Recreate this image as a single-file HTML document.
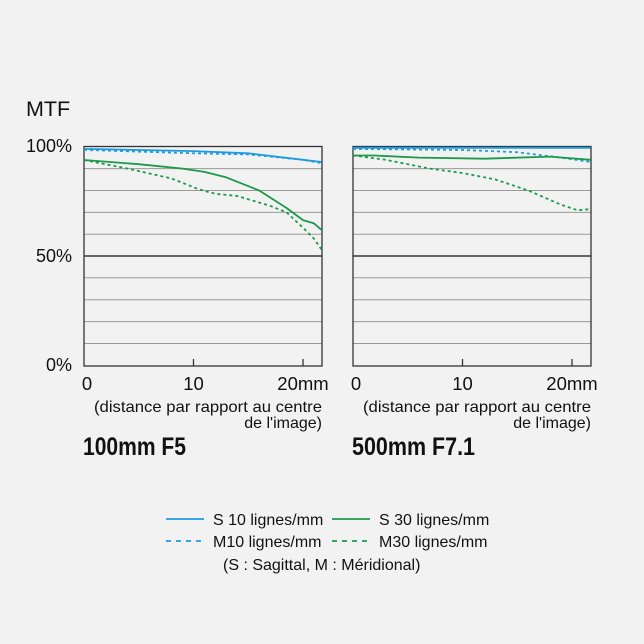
<!DOCTYPE html><html><head><meta charset="utf-8"><style>body{margin:0;background:#f2f2f2}svg{display:block}text{font-family:"Liberation Sans",sans-serif;fill:#111}</style></head><body>
<svg width="644" height="644" viewBox="0 0 644 644">
<rect width="644" height="644" fill="#f2f2f2"/>
<text x="26" y="116" font-size="21.5">MTF</text>
<text x="72" y="152" font-size="18" text-anchor="end">100%</text>
<text x="72" y="262" font-size="18" text-anchor="end">50%</text>
<text x="72" y="371" font-size="18" text-anchor="end">0%</text>
<defs>
<g id="frame">
<g stroke="#999" stroke-width="1">
<line x1="84" y1="168.6" x2="322" y2="168.6"/><line x1="84" y1="190.5" x2="322" y2="190.5"/><line x1="84" y1="212.4" x2="322" y2="212.4"/><line x1="84" y1="234.3" x2="322" y2="234.3"/>
<line x1="84" y1="277.8" x2="322" y2="277.8"/><line x1="84" y1="299.7" x2="322" y2="299.7"/><line x1="84" y1="321.6" x2="322" y2="321.6"/><line x1="84" y1="343.5" x2="322" y2="343.5"/>
</g>
<line x1="84" y1="256" x2="322" y2="256" stroke="#111" stroke-width="1.3"/>
<rect x="84" y="146.5" width="238" height="219.5" fill="none" stroke="#333" stroke-width="1.3"/>
<line x1="193.5" y1="366" x2="193.5" y2="359" stroke="#333" stroke-width="1.3"/>
<line x1="303" y1="366" x2="303" y2="359" stroke="#333" stroke-width="1.3"/>
<text x="87" y="390" font-size="18.5" text-anchor="middle">0</text>
<text x="193.5" y="390" font-size="18.5" text-anchor="middle">10</text>
<text x="303" y="390" font-size="18.5" text-anchor="middle">20mm</text>
<text x="322" y="412" font-size="16" text-anchor="end" textLength="228" lengthAdjust="spacingAndGlyphs">(distance par rapport au centre</text>
<text x="322" y="428" font-size="16" text-anchor="end">de l'image)</text>
</g>
</defs>
<use href="#frame"/>
<use href="#frame" transform="translate(269,0)"/>
<g fill="none" stroke-width="1.8" stroke-linejoin="round">
<polyline stroke="#1e9be0" points="84,148.9 193.5,151.1 248.3,153.3 303,159.8 321.6,162"/>
<polyline stroke="#1e9be0" stroke-dasharray="3,3" points="84,149.9 193.5,153.3 248.3,154.4 303,159.8 321.6,163.1"/>
<polyline stroke="#1a9a4a" points="84,160 138.8,164.2 182.6,168.6 204.5,171.9 226.4,177.4 259.2,190.5 286.6,208 303,220.1 314,223.4 321.6,229.9"/>
<polyline stroke="#1a9a4a" stroke-dasharray="3,3" points="84,160 127.8,168.6 171.6,178.5 199,189.4 215.4,193.8 237.3,196 270.2,205.8 286.6,212.4 303,227.7 314,238.7 321.6,249.6"/>
<g transform="translate(269,0)">
<polyline stroke="#1e9be0" points="84,147.8 321.6,147.8"/>
<polyline stroke="#1e9be0" stroke-dasharray="3,3" points="84,148.9 193.5,150 248.3,152.2 292,157.6 321.6,162"/>
<polyline stroke="#1a9a4a" points="84,155.5 105.9,155.5 149.7,157.6 215.4,158.7 281.1,156.6 321.6,159.8"/>
<polyline stroke="#1a9a4a" stroke-dasharray="3,3" points="84,155.5 116.9,159.8 160.7,168.6 193.5,173 226.4,179.5 259.2,190.5 292,204.7 308.5,210.2 321.6,209.1"/>
</g>
</g>
<text x="83" y="455" font-size="25" font-weight="bold" textLength="103" lengthAdjust="spacingAndGlyphs">100mm F5</text>
<text x="352" y="455" font-size="25" font-weight="bold" textLength="123" lengthAdjust="spacingAndGlyphs">500mm F7.1</text>
<g stroke-width="1.8">
<line x1="166" y1="519" x2="204" y2="519" stroke="#1e9be0"/>
<line x1="332" y1="519" x2="370" y2="519" stroke="#1a9a4a"/>
<line x1="166" y1="541" x2="204" y2="541" stroke="#1e9be0" stroke-dasharray="5,5"/>
<line x1="332" y1="541" x2="370" y2="541" stroke="#1a9a4a" stroke-dasharray="5,5"/>
</g>
<text x="213" y="525" font-size="16">S 10 lignes/mm</text>
<text x="379" y="525" font-size="16">S 30 lignes/mm</text>
<text x="213" y="547" font-size="16">M10 lignes/mm</text>
<text x="379" y="547" font-size="16">M30 lignes/mm</text>
<text x="223" y="570" font-size="16">(S : Sagittal, M : Méridional)</text>
</svg>
</body></html>
